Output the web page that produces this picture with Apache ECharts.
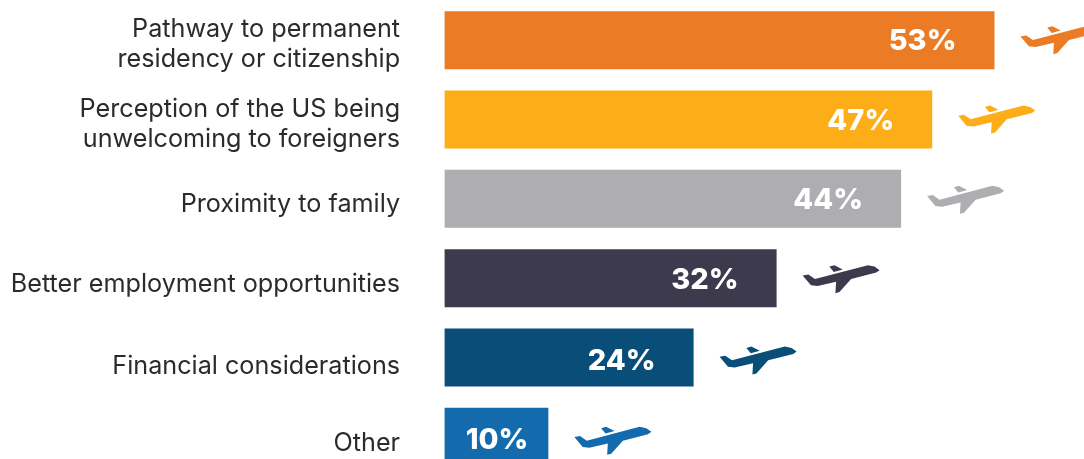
<!DOCTYPE html>
<html>
<head>
<meta charset="utf-8">
<style>html,body{margin:0;padding:0;background:#fff;overflow:hidden}#chart{width:1084px;height:459px}</style>
<script src="https://cdn.jsdelivr.net/npm/echarts@6/dist/echarts.min.js"></script>
</head>
<body>
<div id="chart"></div>
<script>
const categories = [
  'Pathway to permanent\nresidency or citizenship',
  'Perception of the US being\nunwelcoming to foreigners',
  'Proximity to family',
  'Better employment opportunities',
  'Financial considerations',
  'Other'
];
const shares = [53, 47, 44, 32, 24, 10];
const palette = ['#EB7B24', '#FDAD17', '#AEADB1', '#3D3A4E', '#084E78', '#136BAE'];

// Per-row vertical nudges for the captions, value labels and plane icons
const captionNudge = [4.5, 4.5, 6, 6.5, 9, 7];
const valueNudge = [1.5, 1.5, 1.5, 2.5, 4, 3.5];
const planeNudge = [0, 0, 1, 1, 3, 4];

// Small airplane silhouette, scaled by the symbol size
const planePath = 'path://M55 350 L72 347 L92 360 L250 321 L270 325 L285 335 L275 342 L200 360 L165 397 L153 400 L155 368 L100 380 L80 378 Z M135 325 L150 321 L175 333 L148 340 Z';

const chart = echarts.init(document.getElementById('chart'), null, { renderer: 'canvas' });
chart.setOption({
  animation: false,
  backgroundColor: '#fff',
  grid: { left: 444.6, top: 0.5, width: 664, height: 476, outerBoundsMode: 'none' },
  xAxis: { type: 'value', min: 0, max: 64, show: false },
  yAxis: {
    type: 'category',
    inverse: true,
    data: categories,
    axisLine: { show: false },
    axisTick: { show: false },
    axisLabel: { show: false }
  },
  series: [
    {
      type: 'bar',
      barWidth: 58,
      data: shares.map((v, i) => ({
        value: v,
        itemStyle: { color: palette[i] },
        label: {
          distance: i === shares.length - 1 ? 20 : 38,
          offset: [0, valueNudge[i]]
        }
      })),
      label: {
        show: true,
        position: 'insideRight',
        formatter: '{c}%',
        fontFamily: 'Inter',
        fontWeight: 800,
        fontSize: 29,
        color: '#fff'
      }
    },
    {
      // Captions anchored at the zero line, to the left of each bar
      type: 'scatter',
      clip: false,
      silent: true,
      symbolSize: 1,
      itemStyle: { color: 'rgba(0,0,0,0)', opacity: 1 },
      data: categories.map((name, i) => ({
        value: [0, i],
        label: { formatter: name, offset: [0, captionNudge[i]] }
      })),
      label: {
        show: true,
        position: 'left',
        distance: 44,
        align: 'right',
        verticalAlign: 'middle',
        fontFamily: 'Inter',
        fontSize: 25.2,
        lineHeight: 30,
        color: '#2B2A2E'
      }
    },
    {
      type: 'scatter',
      clip: false,
      silent: true,
      symbol: planePath,
      symbolSize: [77, 28],
      data: shares.map((v, i) => ({
        value: [v, i],
        symbolOffset: [64.5, planeNudge[i]],
        itemStyle: { color: palette[i], opacity: 1 }
      }))
    }
  ]
});
</script>
</body>
</html>
